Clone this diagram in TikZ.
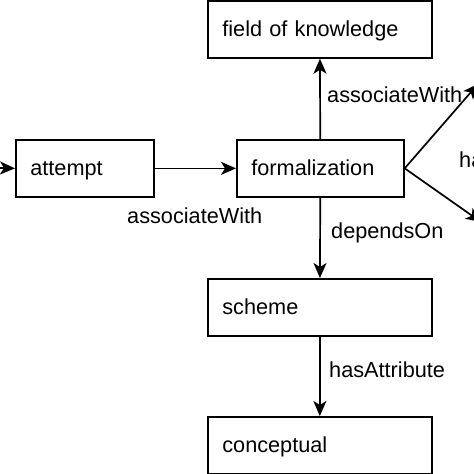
\documentclass[tikz,border=0pt]{standalone}
\usepackage{fontspec}
\setmainfont{Liberation Sans}
\usetikzlibrary{arrows.meta}
\begin{document}
\begin{tikzpicture}[x=1pt,y=-1pt,
  every node/.style={font=\fontsize{21.7}{26}\selectfont},
  box/.style={draw, line width=1.7pt, rectangle, anchor=north west, align=left,
    inner xsep=14.5pt, inner ysep=18.5pt, text height=17pt, text depth=3pt},
  lbl/.style={inner sep=0pt, anchor=base west},
  arr/.style={line width=1.7pt, -{Stealth[length=15pt,width=13pt,inset=4pt]}}]
\useasboundingbox (0,0) rectangle (474,474);
\fill[white] (0,0) rectangle (474,474);
\clip (0,0) rectangle (474,474);
\node[box, text width=109pt] (attempt) at (15,139) {attempt};
\node[box, text width=138pt] (formal) at (236,139) {formalization};
\node[box, text width=195pt] (field) at (207,0) {field of knowledge};
\node[box, text width=195pt] (scheme) at (207,278) {scheme};
\node[box, text width=195pt] (concept) at (207,416) {conceptual};
\coordinate (in) at (-20,167.5);
\coordinate (r1) at (478,84);
\coordinate (r2) at (481,222);
\draw[arr] (in) -- (attempt.west);
\draw[arr] (attempt) -- (formal);
\draw[arr] (formal) -- (field);
\draw[arr] (formal) -- (scheme);
\draw[arr] (scheme) -- (concept);
\draw[arr] (formal.east) -- (r1);
\draw[arr] (formal.east) -- (r2);
\node[lbl] (l1) at (127,223) {associateWith};
\node[lbl] (l2) at (327,102) {associateWith};
\node[lbl] (l3) at (331,238) {dependsOn};
\node[lbl] (l4) at (329,377) {hasAttribute};
\node[lbl] (l5) at (459,167) {ha};
\end{tikzpicture}
\end{document}
